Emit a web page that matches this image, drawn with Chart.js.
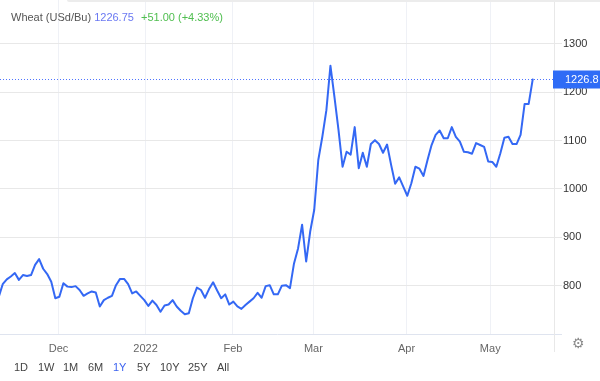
<!DOCTYPE html>
<html><head><meta charset="utf-8">
<script src="https://cdn.jsdelivr.net/npm/chart.js@4/dist/chart.umd.min.js"></script>
<style>
html,body{margin:0;padding:0;background:#fff;}
#wrap{position:relative;width:600px;height:381px;overflow:hidden;font-family:"Liberation Sans",Arial,sans-serif;}
#c{position:absolute;left:0;top:0;}
#band{position:absolute;left:67px;top:0;width:533px;height:2px;background:#ececec;border-bottom-left-radius:3px;}
#title{position:absolute;left:11px;top:10px;font-size:11px;line-height:14px;white-space:nowrap;color:#555;}
#title .p{color:#6a78f2;}
#title .g{color:#4fbe4f;margin-left:4px;}
.rb{position:absolute;top:360px;font-size:11px;line-height:14px;color:#444;}
.rb.on{color:#3d63f0;}
#gear{position:absolute;left:572px;top:335px;font-family:"DejaVu Sans",sans-serif;font-size:14px;line-height:16px;color:#8a8a8a;}
</style></head>
<body><div id="wrap">
<canvas id="c" width="600" height="381"></canvas>
<div id="band"></div>
<div id="title">Wheat (USd/Bu) <span class="p">1226.75</span> <span class="g">+51.00 (+4.33%)</span></div>
<span class="rb" style="left:14px">1D</span>
<span class="rb" style="left:38px">1W</span>
<span class="rb" style="left:63px">1M</span>
<span class="rb" style="left:88px">6M</span>
<span class="rb on" style="left:113px">1Y</span>
<span class="rb" style="left:137px">5Y</span>
<span class="rb" style="left:160px">10Y</span>
<span class="rb" style="left:188px">25Y</span>
<span class="rb" style="left:217px">All</span>
<div id="gear">⚙</div>
</div>
<script>
// Daily wheat prices (USd/Bu), one value per trading day, mid-Nov 2021 to mid-May 2022
const prices = [
776, 803, 813, 819, 826, 812, 822, 820, 822, 843,
855, 835, 824, 808, 774, 777, 805, 798, 797, 799,
791, 779, 784, 788, 786, 757, 770, 775, 779, 801,
814, 814, 803, 784, 788, 779, 770, 758, 769, 760,
746, 759, 761, 770, 757, 748, 741, 743, 774, 796,
791, 775, 793, 807, 790, 774, 782, 761, 767, 757,
752, 760, 767, 774, 785, 775, 799, 801, 782, 782,
800, 801, 795, 846, 877, 926, 850, 912, 957, 1060,
1108, 1163, 1255, 1190, 1122, 1046, 1077, 1071, 1128, 1043,
1075, 1046, 1093, 1101, 1093, 1075, 1092, 1050, 1011, 1024,
1005, 986, 1012, 1046, 1042, 1027, 1060, 1091, 1112, 1121,
1105, 1105, 1128, 1108, 1098, 1077, 1076, 1073, 1095, 1091,
1087, 1057, 1056, 1046, 1074, 1106, 1108, 1093, 1093, 1112,
1176, 1176, 1226.75
];
// Month boundaries expressed on the trading-day index axis
const monthTickPos = [14.8, 36.3, 57.9, 77.8, 100.8, 121.5];
const monthTickLabels = ['Dec', '2022', 'Feb', 'Mar', 'Apr', 'May'];
const priceTicks = [800, 900, 1000, 1100, 1200, 1300];
const lastPrice = 1226.75;
const xRange = [0.33, 137.26];
const yRange = [700, 1391];

const lastPricePlugin = {
  id: 'lastPrice',
  afterDraw(chart) {
    const ctx = chart.ctx, a = chart.chartArea, ys = chart.scales.y;
    const y = Math.round(ys.getPixelForValue(lastPrice)) + 0.5;
    ctx.save();
    ctx.strokeStyle = '#dfe4ef'; ctx.lineWidth = 1;
    ctx.beginPath(); ctx.moveTo(a.right, a.bottom + 0.5); ctx.lineTo(a.right + 8, a.bottom + 0.5); ctx.stroke();
    ctx.strokeStyle = '#e8e8e8';
    ctx.beginPath(); ctx.moveTo(a.right + 0.5, a.bottom); ctx.lineTo(a.right + 0.5, a.bottom + 18); ctx.stroke();
    ctx.strokeStyle = '#4f74ff'; ctx.lineWidth = 1; ctx.setLineDash([1, 2]);
    ctx.beginPath(); ctx.moveTo(a.left, y); ctx.lineTo(a.right, y); ctx.stroke();
    ctx.setLineDash([]);
    ctx.fillStyle = '#2f6cf6';
    ctx.fillRect(a.right - 1, y - 9, chart.width - a.right + 1, 18);
    ctx.fillStyle = '#ffffff';
    ctx.font = '11px "Liberation Sans", Arial, sans-serif';
    ctx.textBaseline = 'middle'; ctx.textAlign = 'left';
    ctx.fillText(lastPrice.toFixed(1), a.right + 11, y + 0.5);
    ctx.restore();
  }
};

new Chart(document.getElementById('c'), {
  type: 'line',
  data: {
    datasets: [{
      data: prices.map((v, i) => ({ x: i, y: v })),
      borderColor: '#3468f4',
      borderWidth: 2,
      borderJoinStyle: 'round',
      borderCapStyle: 'round',
      pointRadius: 0,
      tension: 0,
      fill: false
    }]
  },
  options: {
    responsive: false,
    animation: false,
    layout: { padding: 0 },
    plugins: { legend: { display: false }, tooltip: { enabled: false } },
    scales: {
      x: {
        type: 'linear',
        min: xRange[0], max: xRange[1],
        grid: { color: '#eff1f6', drawTicks: false },
        border: { display: true, color: '#dfe4ef' },
        ticks: {
          padding: 8, color: '#666', maxRotation: 0, autoSkip: false,
          font: { size: 11, family: '"Liberation Sans", Arial, sans-serif' },
          callback: (v) => { const k = monthTickPos.indexOf(v); return k >= 0 ? monthTickLabels[k] : ''; }
        },
        afterBuildTicks: (s) => { s.ticks = monthTickPos.map(v => ({ value: v })); },
        afterFit: (s) => { s.height = 47; s.paddingLeft = 0; s.paddingRight = 0; }
      },
      y: {
        position: 'right',
        min: yRange[0], max: yRange[1],
        grid: { color: '#e8e8e8', tickLength: 8 },
        border: { display: true, color: '#e8e8e8' },
        ticks: {
          padding: 1, color: '#333',
          font: { size: 11, family: '"Liberation Sans", Arial, sans-serif' },
          callback: (v) => String(v)
        },
        afterBuildTicks: (s) => { s.ticks = priceTicks.map(v => ({ value: v })); },
        afterFit: (s) => { s.width = 46; s.paddingTop = 0; s.paddingBottom = 0; }
      }
    }
  },
  plugins: [lastPricePlugin]
});
</script>
</body></html>
